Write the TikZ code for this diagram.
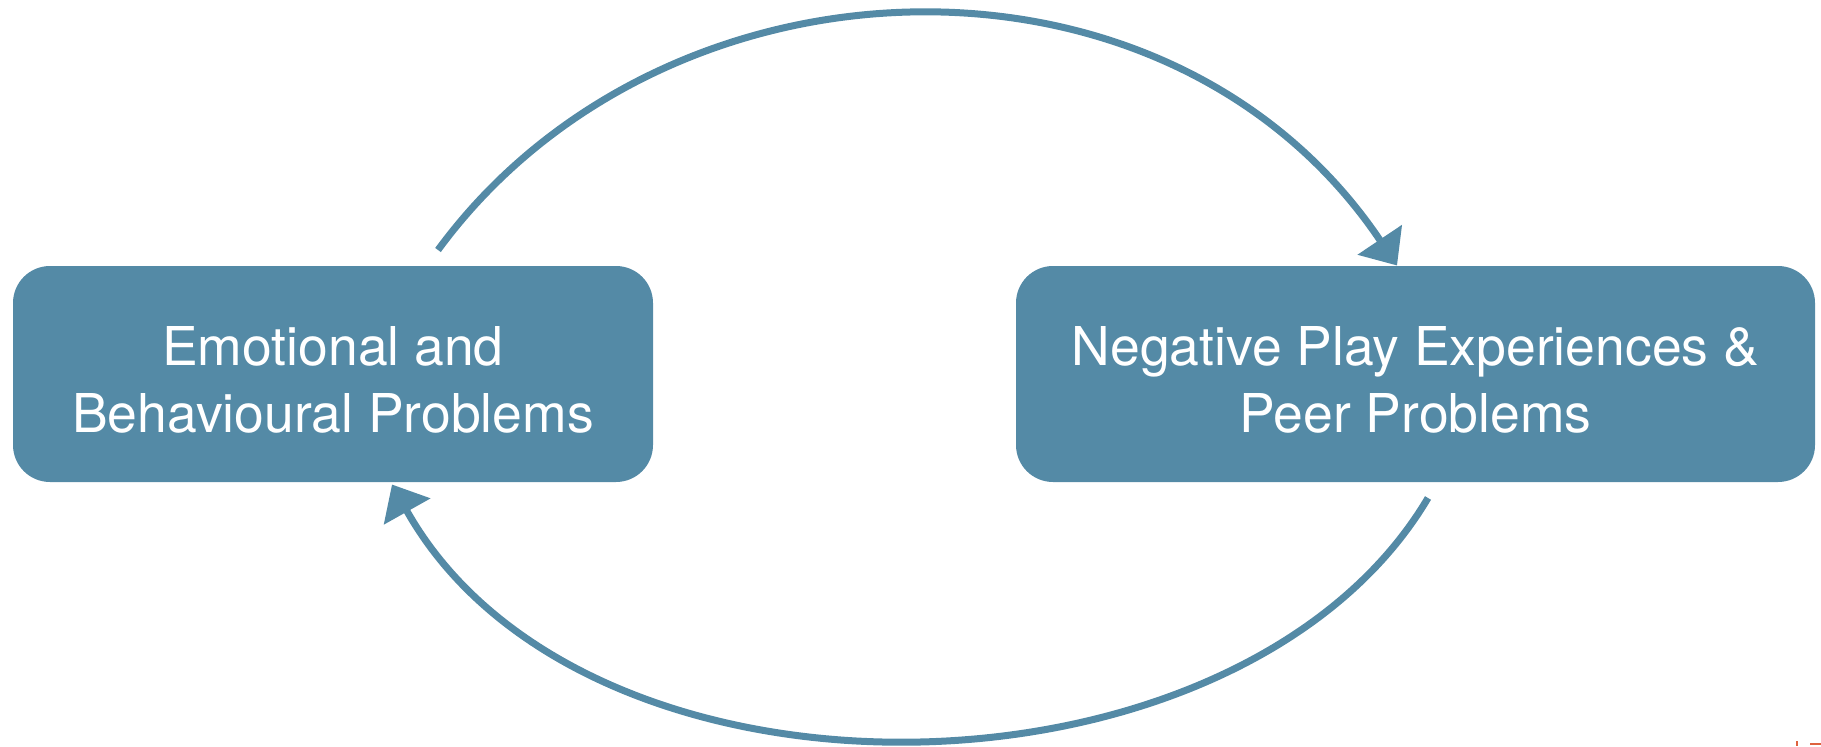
\documentclass[tikz,border=0pt]{standalone}
\usepackage{fontspec}
\setmainfont{TeX Gyre Heros}
\usetikzlibrary{arrows.meta}
\definecolor{boxblue}{RGB}{84,138,166}
\definecolor{markred}{RGB}{222,98,62}
\begin{document}
\begin{tikzpicture}[x=1pt,y=-1pt,
  box/.style={fill=boxblue, draw=none, rounded corners=37pt, inner sep=0pt, minimum height=216pt},
  boxtext/.style={text=white, align=center, inner sep=0pt, font=\fontsize{53.5}{67}\selectfont},
  link/.style={draw=boxblue, line width=7pt, -{Triangle[length=31pt,width=52pt]}}]
\useasboundingbox (0,0) rectangle (1821,747);
\node[box, minimum width=640pt] (lbox) at (333,374) {};
\node[box, minimum width=799pt] (rbox) at (1415.5,374) {};
\node[boxtext] (ltext) at (333,379.5) {Emotional and\\Behavioural Problems};
\node[boxtext] (rtext) at (1415.5,379.5) {Negative Play Experiences \&\\Peer Problems};
\coordinate (a1s) at (438,250);
\coordinate (a1e) at (1397,265.5);
\coordinate (a2s) at (1428,498);
\coordinate (a2e) at (392,484.5);
\draw[link] (a1s) .. controls (664,-58) and (1169,-74) .. (a1e);
\draw[link] (a2s) .. controls (1240,815) and (585,828) .. (a2e);
\draw[markred, line width=2pt] (1810,743.5) -- (1821,743.5);
\fill[markred] (1796,741) rectangle (1798,746);
\end{tikzpicture}
\end{document}
